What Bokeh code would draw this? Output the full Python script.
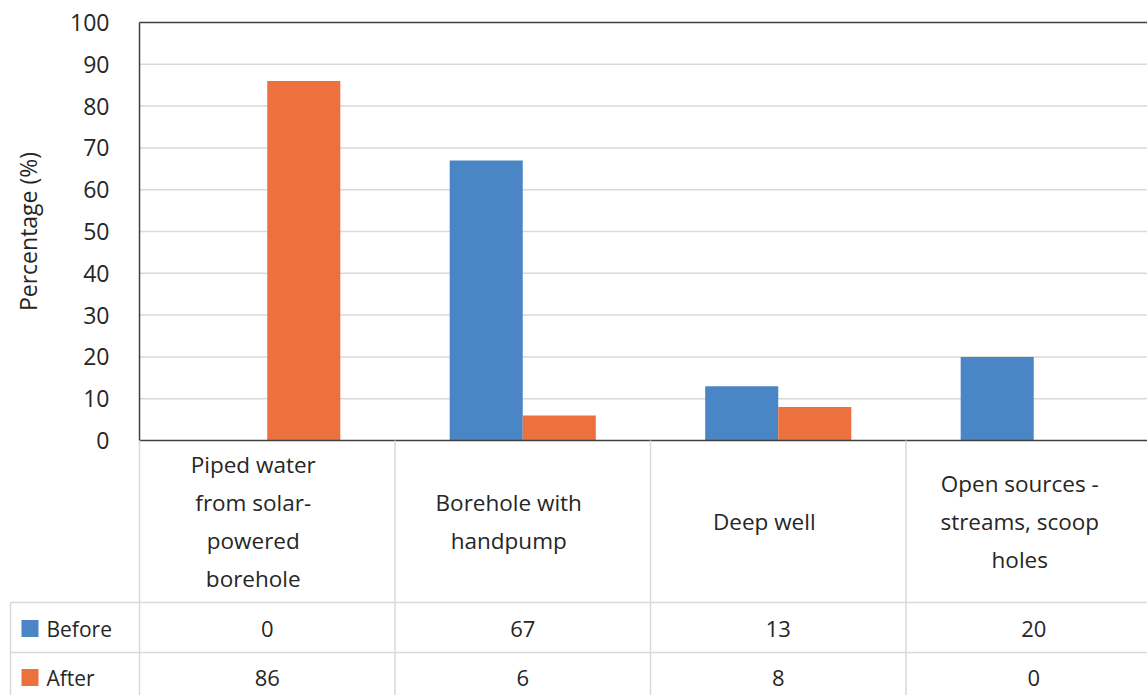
from math import pi

from bokeh.plotting import figure
from bokeh.models import Range1d
from bokeh.core.properties import value
from bokeh.embed import file_html
from bokeh.resources import INLINE

# ---- data ---------------------------------------------------------------
category_lines = [
    ["Piped water", "from solar-", "powered", "borehole"],
    ["Borehole with", "handpump"],
    ["Deep well"],
    ["Open sources -", "streams, scoop", "holes"],
]
series_names = ["Before", "After"]
before = [0, 67, 13, 20]
after = [86, 6, 8, 0]
y_ticks = [0, 10, 20, 30, 40, 50, 60, 70, 80, 90, 100]
y_title = "Percentage (%)"

# ---- styling / layout -----------------------------------------------------
W, H = 1147, 695
PLOT_LEFT, PLOT_TOP, PLOT_BOTTOM = 139, 22, 440
CAT_W = 255.5                     # pixel width of one category column
PX_PER_UNIT = (PLOT_BOTTOM - PLOT_TOP) / 100.0
ROW_SPLIT, ROW1_Y, ROW2_Y, ROW_LINE2 = 602, 628, 677, 652
LABEL_SHIFT = -14 / CAT_W         # category text sits slightly left of centre
BAR_W = 0.286
BLUE, ORANGE = "#4a86c6", "#ed713d"
TEXT = "#262626"
GRID = "#d9d9d9"
BORDER = "#404040"
FONT = value("Open Sans")
FS = "21px"

n = len(before)
x_end = (W - PLOT_LEFT) / CAT_W

p = figure(
    width=W, height=H,
    x_range=Range1d(-PLOT_LEFT / CAT_W, x_end),
    y_range=Range1d(-(H - PLOT_BOTTOM) / PX_PER_UNIT, 100 + PLOT_TOP / PX_PER_UNIT),
    output_backend="svg", toolbar_location=None,
    x_axis_type=None, y_axis_type=None,
    min_border=0, outline_line_color=None,
)
p.grid.visible = False
# pixel-space ranges for the data table beneath the bars
p.extra_x_ranges = {"px": Range1d(0, W)}
p.extra_y_ranges = {"px": Range1d(H, 0)}

# horizontal gridlines
grid_vals = y_ticks[1:-1]
p.segment(x0=[0] * len(grid_vals), x1=[x_end] * len(grid_vals),
          y0=grid_vals, y1=grid_vals, line_color=GRID, line_width=1.5)

# bars
centers = [i + 0.5 for i in range(n)]
p.vbar(x=[c - BAR_W / 2 for c in centers], top=before, bottom=0,
       width=BAR_W, fill_color=BLUE, line_color=None)
p.vbar(x=[c + BAR_W / 2 for c in centers], top=after, bottom=0,
       width=BAR_W, fill_color=ORANGE, line_color=None)

# plot-area border (top, left) and baseline
p.segment(x0=[0, 0, 0], x1=[x_end, 0, x_end],
          y0=[y_ticks[-1], y_ticks[0], y_ticks[0]],
          y1=[y_ticks[-1], y_ticks[-1], y_ticks[0]],
          line_color=BORDER, line_width=1.5)

# y tick labels
p.text(x=[109] * len(y_ticks), y=y_ticks, text=[str(t) for t in y_ticks],
       x_range_name="px", text_align="right", text_baseline="middle",
       text_font=FONT, text_font_size="23px", text_color=TEXT)

# y axis title
p.text(x=[27], y=[50], text=[y_title], x_range_name="px", angle=pi / 2,
       text_align="center", text_baseline="middle",
       text_font=FONT, text_font_size="23px", text_color=TEXT)

# data table grid lines
bounds = list(range(n))
p.segment(x0=bounds, x1=bounds, y0=[PLOT_BOTTOM] * n, y1=[H] * n,
          y_range_name="px", line_color=GRID, line_width=1.5)
p.segment(x0=[10, 10, 10], x1=[W, W, 10], y0=[ROW_SPLIT, ROW_LINE2, ROW_SPLIT],
          y1=[ROW_SPLIT, ROW_LINE2, H], x_range_name="px", y_range_name="px",
          line_color=GRID, line_width=1.5)

# category labels (multi-line, centred in each column)
lx, ly, lt = [], [], []
mid = (PLOT_BOTTOM + ROW_SPLIT) / 2
for i, lines in enumerate(category_lines):
    k = len(lines)
    for j, line in enumerate(lines):
        lx.append(centers[i] + LABEL_SHIFT)
        ly.append(mid + (j - (k - 1) / 2) * 38)
        lt.append(line)
p.text(x=lx, y=ly, text=lt, y_range_name="px", text_align="center",
       text_baseline="middle", text_font=FONT, text_font_size="22.5px",
       text_color=TEXT)

# series rows: legend key, name and values
row_y = [ROW1_Y, ROW2_Y]
p.rect(x=[29.5, 29.5], y=row_y, width=17, height=17, fill_color=[BLUE, ORANGE],
       line_color=None, x_range_name="px", y_range_name="px")
p.text(x=[46, 46], y=row_y, text=series_names, x_range_name="px", y_range_name="px",
       text_align="left", text_baseline="middle",
       text_font=FONT, text_font_size=FS, text_color=TEXT)
for vals, ry in zip([before, after], row_y):
    p.text(x=centers, y=[ry] * n, text=[str(v) for v in vals], y_range_name="px",
           text_align="center", text_baseline="middle",
           text_font=FONT, text_font_size="22px", text_color=TEXT)

open("out.html", "w").write(file_html(p, INLINE))
